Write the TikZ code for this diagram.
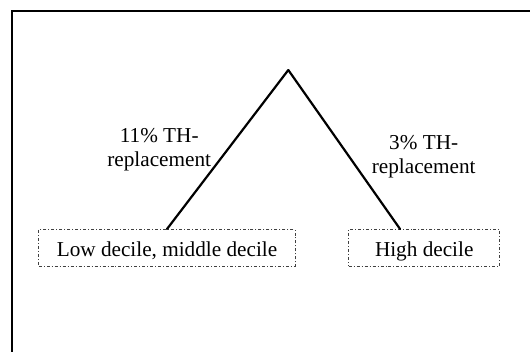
\documentclass[tikz,border=0pt]{standalone}
\usepackage{fontspec}
\setmainfont{Liberation Serif}
\usepackage{tikz}
\usetikzlibrary{positioning, calc}

\tikzset{
  decbox/.style={draw=black!75, line width=0.8pt,
    dash pattern=on 3pt off 2pt on 1pt off 2pt,
    minimum height=36.7, inner sep=0pt,
    text height=18pt, text depth=0pt},
  branch/.style={line width=2.2pt, line cap=round},
  share/.style={align=center}
}

\begin{document}
\begin{tikzpicture}[x=1bp, y=-1bp, font=\fontsize{21.3}{24.5}\selectfont]
      % page and outer frame
      \clip (0,0) rectangle (530,351);
      \fill[white] (0,0) rectangle (530,351);
      \draw[line width=1.6pt] (12,10.7) rectangle (560,380);

      % top of the split
      \coordinate (top) at (288.3,70);

      % ── decile groups ─────────────────────────────────────────────
      \node[decbox, minimum width=257.4] (lowmid) at (167,247.7)
        {Low decile, middle decile};
      \node[decbox, minimum width=151.7] (high) at (424.2,247.7)
        {High decile};

      % ── branches ──────────────────────────────────────────────────
      \draw[branch] (top) -- (lowmid.north);
      \draw[branch] (top) -- ($(high.north west)!0.341!(high.north east)$);

      % ── branch labels ─────────────────────────────────────────────
      \node[share] (lowlab) at (159.2,149.5) {11\% TH-\\replacement};
      \node[share] (highlab) at (423.7,156.5) {3\% TH-\\replacement};
    \end{tikzpicture}
\end{document}
